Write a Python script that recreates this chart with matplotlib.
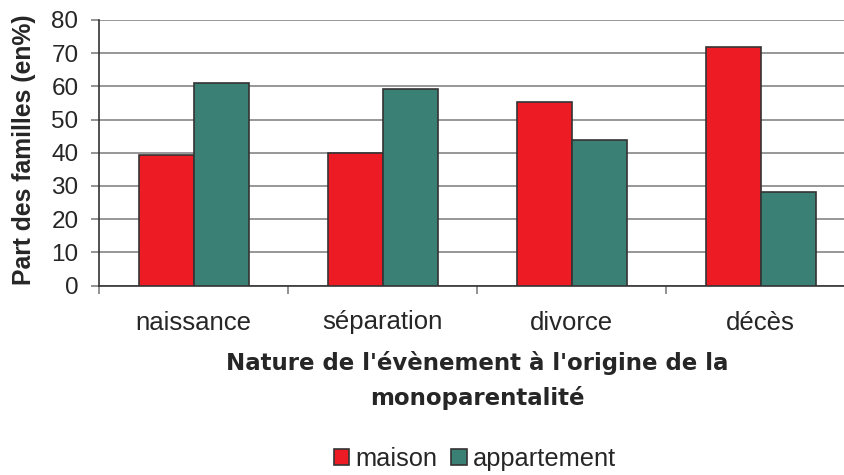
import matplotlib
matplotlib.use("Agg")
import matplotlib.pyplot as plt
import numpy as np
from matplotlib.patches import Patch

plt.rcParams['font.family'] = ['Liberation Sans', 'DejaVu Sans']

categories = ["naissance", "séparation", "divorce", "décès"]
maison = [39.4, 39.8, 55.3, 71.9]
appartement = [61.0, 59.3, 43.8, 28.3]
series_names = ["maison", "appartement"]
yticks = [0, 10, 20, 30, 40, 50, 60, 70, 80]

red = "#ED1C24"
teal = "#3B8075"
edge = "#333333"
textc = "#262626"

fig = plt.figure(figsize=(8.44, 4.75), dpi=100)
ax = fig.add_axes([99.3/844, 1-285.5/475, 756/844, 265.5/475])

x = np.arange(len(categories))
w = 0.29
ax.bar(x - w/2, maison, w, color=red, edgecolor=edge, linewidth=1.2, zorder=3)
ax.bar(x + w/2, appartement, w, color=teal, edgecolor=edge, linewidth=1.2, zorder=3)

ax.set_xlim(-0.5, len(categories) - 0.5)
ax.set_ylim(0, 80)
ax.set_yticks(yticks)
ax.set_yticklabels([str(v) for v in yticks], fontsize=17.5, color=textc)
ax.yaxis.grid(True, color="#858585", linewidth=1.2, zorder=0)
ax.set_axisbelow(True)

ax.set_xticks(np.arange(-0.5, len(categories), 1.0))
ax.set_xticks(x, minor=True)
ax.set_xticklabels([])
ax.set_xticklabels(categories, minor=True, fontsize=18.5, color=textc)
ax.tick_params(axis='x', which='major', length=6, color="#808080", width=1.2)
ax.tick_params(axis='x', which='minor', length=0, pad=18)
ax.tick_params(axis='y', length=6, color="#808080", width=1.2, pad=9)

for s in ["top", "right"]:
    ax.spines[s].set_visible(False)
ax.spines["left"].set_color(edge)
ax.spines["left"].set_linewidth(1.2)
ax.spines["bottom"].set_color(edge)
ax.spines["bottom"].set_linewidth(1.2)

fig.text(24/844, 1-150/475, "Part des familles (en%)", rotation=90, ha="center", va="center",
         fontsize=17.8, fontweight="bold", color=textc)
fig.text(477/844, 1-363/475, "Nature de l'évènement à l'origine de la", ha="center", va="center",
         fontsize=16.5, fontweight="bold", color=textc, family=['DejaVu Sans'])
fig.text(477/844, 1-398/475, "monoparentalité", ha="center", va="center",
         fontsize=16.5, fontweight="bold", color=textc, family=['DejaVu Sans'])

handles = [Patch(facecolor=red, edgecolor=edge, linewidth=1.2),
           Patch(facecolor=teal, edgecolor=edge, linewidth=1.2)]
fig.legend(handles, series_names, loc="center", bbox_to_anchor=(475/844, 1-459/475),
           ncol=2, frameon=False, fontsize=18.3, handlelength=0.6, handleheight=0.6,
           handletextpad=0.25, columnspacing=0.55, labelcolor=textc,
           borderpad=0, borderaxespad=0)

fig.savefig("out.png", dpi=100)
